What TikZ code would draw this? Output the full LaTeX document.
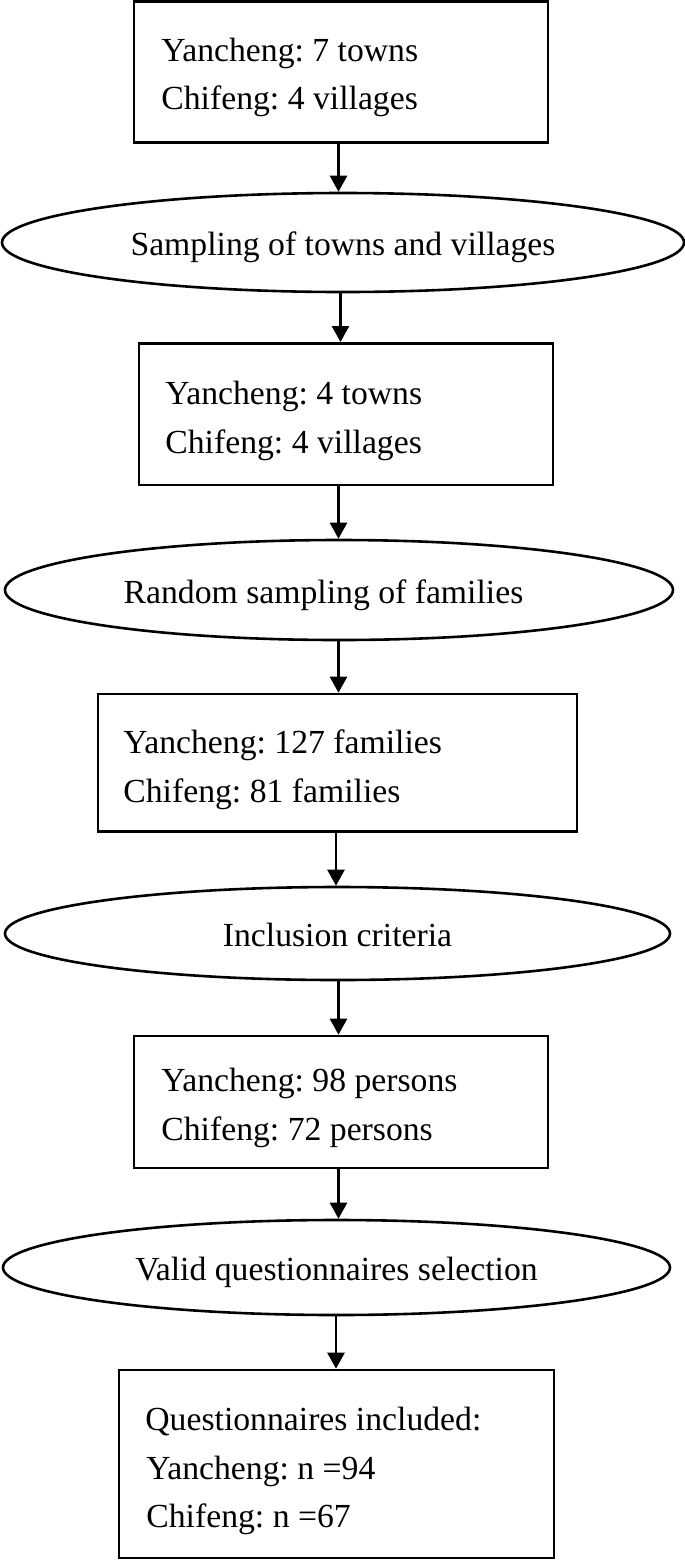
\documentclass[tikz,border=0pt]{standalone}
\usepackage{fontspec}
\setmainfont{Liberation Serif}
\frenchspacing
\usetikzlibrary{arrows.meta,shapes.geometric}
\tikzset{
  boxnode/.style={draw, rectangle, line width=1.3pt, inner sep=0pt},
  ellnode/.style={draw, ellipse, line width=1.3pt, inner sep=0pt,
    font=\fontsize{16.85}{24}\selectfont, text height=13pt, text depth=0pt},
  txt/.style={inner sep=0pt, anchor=base west, font=\fontsize{16.85}{24}\selectfont},
  arr/.style={line width=1.3pt, -{Triangle[length=8pt,width=8.5pt]}}
}
\begin{document}
\begin{tikzpicture}[x=0.5pt,y=-0.5pt]
\useasboundingbox (0,0) rectangle (685,1560);
\fill[white] (0,0) rectangle (685,1560);

% boxes
\node[boxnode, minimum width=207pt, minimum height=70.7pt] (b1) at (341,72) {};
\node[boxnode, minimum width=207pt, minimum height=70.85pt] (b2) at (346,414.15) {};
\node[boxnode, minimum width=239.5pt, minimum height=68.85pt] (b3) at (337.5,762.85) {};
\node[boxnode, minimum width=207pt, minimum height=66pt] (b4) at (341,1102) {};
\node[boxnode, minimum width=217.5pt, minimum height=94pt] (b5) at (336.5,1464) {};

% ellipses
\node[ellnode, minimum width=341pt, minimum height=49.5pt] (e1) at (343,242.5) {Sampling of towns and villages};
\node[ellnode, minimum width=334pt, minimum height=50pt] (e2) at (339,590) {Random sampling of families\hspace*{15.5pt}};
\node[ellnode, minimum width=332.5pt, minimum height=46.5pt] (e3) at (337.5,933.5) {Inclusion criteria};
\node[ellnode, minimum width=333.5pt, minimum height=47.5pt] (e4) at (336.5,1267.5) {Valid questionnaires selection};

% box texts
\node[txt] (t1a) at (161,61.7) {Yancheng: 7 towns};
\node[txt] (t1b) at (161,109.5) {Chifeng: 4 villages};
\node[txt] (t2a) at (165,404) {Yancheng: 4 towns};
\node[txt] (t2b) at (165,453) {Chifeng: 4 villages};
\node[txt] (t3a) at (123,753.5) {Yancheng: 127 families};
\node[txt] (t3b) at (123,802) {Chifeng: 81 families};
\node[txt] (t4a) at (161,1091.7) {Yancheng: 98 persons};
\node[txt] (t4b) at (161,1140) {Chifeng: 72 persons};
\node[txt] (t5a) at (145,1430) {Questionnaires included:};
\node[txt] (t5b) at (146,1479) {Yancheng: n =94};
\node[txt] (t5c) at (146,1527) {Chifeng: n =67};

% arrow x positions
\coordinate (xa) at (338.5,0);
\coordinate (xb) at (340.5,0);
\coordinate (xc) at (336,0);

\draw[arr] (b1.south -| xa) -- (e1.north -| xa);
\draw[arr] (e1.south -| xb) -- (b2.north -| xb);
\draw[arr] (b2.south -| xa) -- (e2.north -| xa);
\draw[arr] (e2.south -| xa) -- (b3.north -| xa);
\draw[arr] (b3.south -| xc) -- (e3.north -| xc);
\draw[arr] (e3.south -| xa) -- (b4.north -| xa);
\draw[arr] (b4.south -| xa) -- (e4.north -| xa);
\draw[arr] (e4.south -| xc) -- (b5.north -| xc);
\end{tikzpicture}
\end{document}
